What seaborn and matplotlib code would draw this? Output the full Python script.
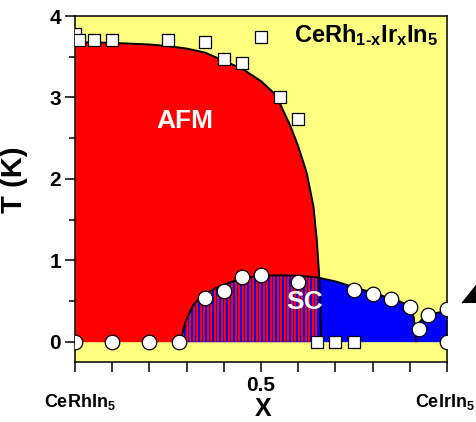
import numpy as np
import matplotlib
matplotlib.use("Agg")
import matplotlib.pyplot as plt
import seaborn as sns
import pandas as pd

# Neel temperatures (open squares)
afm_x = [0.0, 0.01, 0.05, 0.10, 0.25, 0.35, 0.40, 0.45, 0.50, 0.55, 0.60, 0.65, 0.70, 0.75]
afm_T = [3.78, 3.71, 3.70, 3.70, 3.71, 3.68, 3.47, 3.42, 3.74, 3.00, 2.74, 0.0, 0.0, 0.0]

# Superconducting transitions (open circles)
sc_x = [0.0, 0.10, 0.20, 0.28, 0.35, 0.40, 0.45, 0.50, 0.60, 0.75, 0.80, 0.85, 0.90, 0.926, 0.95, 1.0, 1.0]
sc_T = [0.0, 0.0, 0.0, 0.0, 0.53, 0.62, 0.80, 0.82, 0.73, 0.63, 0.58, 0.52, 0.42, 0.15, 0.33, 0.40, 0.0]

# Phase boundaries
afm_line_x = [0.0, 0.10, 0.20, 0.25, 0.30, 0.35, 0.40, 0.45, 0.50, 0.54, 0.58, 0.60, 0.623, 0.641, 0.650, 0.656, 0.660, 0.662]
afm_line_T = [3.68, 3.67, 3.65, 3.63, 3.60, 3.55, 3.45, 3.35, 3.20, 3.03, 2.64, 2.40, 2.07, 1.66, 1.25, 0.84, 0.40, 0.0]

dome1_x = [0.282, 0.29, 0.296, 0.305, 0.318, 0.335, 0.35, 0.375, 0.40, 0.45, 0.50, 0.55, 0.60, 0.65,
           0.70, 0.75, 0.80, 0.85, 0.88, 0.90, 0.91, 0.914, 0.917]
dome1_T = [0.0, 0.12, 0.23, 0.33, 0.45, 0.53, 0.58, 0.65, 0.70, 0.78, 0.81, 0.815, 0.81, 0.79,
           0.74, 0.67, 0.60, 0.53, 0.48, 0.43, 0.31, 0.17, 0.0]

dome2_x = [0.917, 0.92, 0.93, 0.95, 0.97, 1.0]
dome2_T = [0.15, 0.20, 0.26, 0.32, 0.35, 0.38]

# Pressure marker beside the axis
arrow_x = [1.081]
arrow_T = [0.595]

YELLOW = "#FFFF80"
RED = "#FF0000"
BLUE = "#0000FF"

sns.set_theme(style="ticks")
plt.rcParams["font.family"] = ["Liberation Sans", "DejaVu Sans"]
plt.rcParams["font.weight"] = "bold"
plt.rcParams["text.color"] = "black"
plt.rcParams["axes.labelcolor"] = "black"
plt.rcParams["xtick.color"] = "black"
plt.rcParams["ytick.color"] = "black"
plt.rcParams["mathtext.fontset"] = "custom"
plt.rcParams["mathtext.rm"] = "Liberation Sans:bold"
plt.rcParams["mathtext.it"] = "Liberation Sans:bold"
plt.rcParams["mathtext.bf"] = "Liberation Sans:bold"

fig = plt.figure(figsize=(4.77, 4.22), dpi=100)
ax = fig.add_axes([75 / 477, 1 - 362 / 422, 372 / 477, 346 / 422])
ax.set_facecolor(YELLOW)
ax.set_xlim(0, 1)
ax.set_ylim(-0.25, 4)

# AFM region
afm_poly = ax.fill_between(afm_line_x, 0, afm_line_T, color=RED, linewidth=0, zorder=1)

# SC domes
dome_poly = ax.fill_between(dome1_x, 0, dome1_T, color=BLUE, linewidth=0, zorder=2)
ax.fill_between(dome2_x, 0, dome2_T, color=BLUE, linewidth=0, zorder=2)

# Coexistence region: red stripes inside the dome, left of the AFM boundary
px = 1.0 / 372.0
x_edge = np.interp(max(dome1_T), afm_line_T[::-1], afm_line_x[::-1])
stripe_x = np.arange(dome1_x[0], x_edge, 3.5 * px)
stripes = ax.vlines(stripe_x, 0, max(dome1_T) + 0.05, colors=RED, linewidth=1.25,
                    antialiased=False, zorder=3)
stripes.set_clip_path(dome_poly.get_paths()[0], ax.transData)

# Boundary lines
df_afm = pd.DataFrame({"x": afm_line_x, "T": afm_line_T})
df_d1 = pd.DataFrame({"x": dome1_x, "T": dome1_T})
df_d2 = pd.DataFrame({"x": dome2_x, "T": dome2_T})
for d in (df_afm, df_d1, df_d2):
    sns.lineplot(data=d, x="x", y="T", ax=ax, color="black", linewidth=1.4,
                 sort=False, estimator=None, zorder=4)

# Data points
sns.scatterplot(x=afm_x, y=afm_T, ax=ax, marker="s", s=85, color="white",
                edgecolor="black", linewidth=0.9, zorder=5)
sns.scatterplot(x=sc_x, y=sc_T, ax=ax, marker="o", s=110, color="white",
                edgecolor="black", linewidth=0.9, zorder=6)
tri = [(-1.6, -1.0), (0.0, 1.0), (1.6, -1.0)]
ax.plot(arrow_x, arrow_T, marker=tri, markersize=22, color="black",
        linestyle="none", clip_on=False, zorder=7)

# Phase labels
ax.text(0.296, 2.71, "AFM", color="white", fontsize=19, fontweight="bold",
        ha="center", va="center", zorder=8)
ax.text(0.616, 0.49, "SC", color="white", fontsize=19, fontweight="bold",
        ha="center", va="center", zorder=8)
ax.text(0.976, 0.925, r"CeRh$_{\text{1-x}}$Ir$_{\text{x}}$In$_{\text{5}}$",
        transform=ax.transAxes, fontsize=17, fontweight="bold",
        ha="right", va="baseline", zorder=8)

# Axes styling
for sp in ax.spines.values():
    sp.set_visible(True)
    sp.set_linewidth(1.1)
    sp.set_color("black")

xt = np.round(np.arange(0, 1.01, 0.1), 1)
ax.set_xticks(xt)
ax.set_xticklabels(["0.5" if abs(v - 0.5) < 1e-6 else "" for v in xt])
ax.set_yticks([0, 1, 2, 3, 4])
ax.set_yticks([0.5, 1.5, 2.5, 3.5], minor=True)
ax.tick_params(axis="both", which="major", direction="out", length=7, width=1.1,
               labelsize=15, pad=3, color="black")
ax.tick_params(axis="y", which="minor", direction="out", length=4, width=1.1, color="black")
for lab in ax.get_xticklabels() + ax.get_yticklabels():
    lab.set_fontweight("bold")

ax.set_xlabel("X", fontsize=18, fontweight="bold", labelpad=0)
ax.xaxis.set_label_coords(0.505, -0.10)
ax.set_ylabel("T (K)", fontsize=21, fontweight="bold")
ax.yaxis.set_label_coords(-0.125, 0.526)

# Compound end members
fig.text(80 / 477, 1 - 402 / 422, r"CeRhIn$_{\text{5}}$", fontsize=13, fontweight="bold",
         ha="center", va="center")
fig.text(415 / 477, 1 - 402 / 422, r"CeIrIn$_{\text{5}}$", fontsize=13, fontweight="bold",
         ha="left", va="center")

fig.savefig("out.png", dpi=100)
